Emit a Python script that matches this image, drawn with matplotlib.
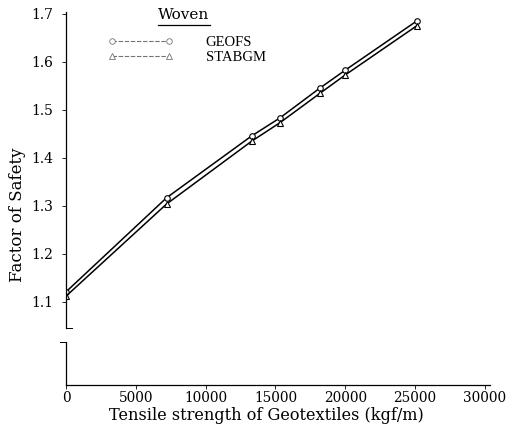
import matplotlib
matplotlib.use("Agg")
import matplotlib.pyplot as plt
from matplotlib.lines import Line2D

plt.rcParams['font.family'] = ['DejaVu Serif']

strength = [0, 7200, 13300, 15300, 18200, 20000, 25100]
geofs = [1.121, 1.317, 1.446, 1.483, 1.546, 1.583, 1.685]
stabgm = [1.112, 1.304, 1.435, 1.473, 1.535, 1.573, 1.675]
xticks = [0, 5000, 10000, 15000, 20000, 25000, 30000]
yticks = [1.1, 1.2, 1.3, 1.4, 1.5, 1.6, 1.7]
series_names = ['GEOFS', 'STABGM']
legend_title = 'Woven'

W, H = 516, 425
fig = plt.figure(figsize=(W / 100, H / 100), dpi=100)
ax = fig.add_axes([66 / W, 1 - 385 / H, (490 - 66) / W, (385 - 12) / H])

ax.plot(strength, geofs, color='black', lw=1.1, marker='o', ms=4,
        mfc='white', mec='black', mew=0.8)
ax.plot(strength, stabgm, color='black', lw=1.1, marker='^', ms=4,
        mfc='white', mec='black', mew=0.8)

ax.set_xlim(0, 30358)
ax.set_ylim(0.927, 1.704)
ax.set_xticks(xticks)
ax.set_xticklabels([str(v) for v in xticks], fontsize=9.8)
ax.set_yticks(yticks)
ax.set_yticklabels([f"{v:.1f}" for v in yticks], fontsize=10)
ax.tick_params(axis='both', length=3, width=0.6, direction='out')
ax.tick_params(axis='x', pad=1.5)
ax.tick_params(axis='y', pad=6)

for s in ['top', 'right', 'left']:
    ax.spines[s].set_visible(False)
ax.spines['bottom'].set_linewidth(0.9)

# broken y axis
brk_hi, brk_lo = 1.046, 1.017
ax.plot([0, 0], [1.704, brk_hi], color='black', lw=0.9, clip_on=False)
ax.plot([0, 450], [brk_hi, brk_hi], color='black', lw=0.7, clip_on=False)
ax.plot([0, 0], [brk_lo, 0.927], color='black', lw=0.9, clip_on=False)
ax.plot([-450, 0], [brk_lo, brk_lo], color='black', lw=0.7, clip_on=False)

ax.set_xlabel('Tensile strength of Geotextiles (kgf/m)', fontsize=11.6, va='baseline')
ax.xaxis.set_label_coords((266 - 66) / 424, (385 - 420) / 373)
ax.set_ylabel('Factor of Safety', fontsize=12, va='center')
ax.yaxis.set_label_coords((18 - 66) / 424, (385 - 215) / 373)

handles = [
    Line2D([], [], color='0.45', lw=0.8, ls=(0, (4, 1.5)), marker='o', ms=4,
           mfc='white', mec='0.45', mew=0.6),
    Line2D([], [], color='0.45', lw=0.8, ls=(0, (4, 1.5)), marker='^', ms=4,
           mfc='white', mec='0.45', mew=0.6),
]
leg = fig.legend(handles, series_names, loc='upper left',
                 bbox_to_anchor=(108 / W, 1 - 36 / H), frameon=False,
                 prop={'family': 'Liberation Serif', 'size': 10.5},
                 handlelength=4.5, handletextpad=2.2,
                 labelspacing=0.12, borderpad=0, borderaxespad=0, numpoints=2)

fig.text(184 / W, 1 - 15 / H, legend_title, ha='center', va='center', fontsize=11)
fig.add_artist(Line2D([158 / W, 210 / W], [1 - 25 / H, 1 - 25 / H],
                      color='black', lw=0.9))

fig.savefig('out.png', dpi=100)
